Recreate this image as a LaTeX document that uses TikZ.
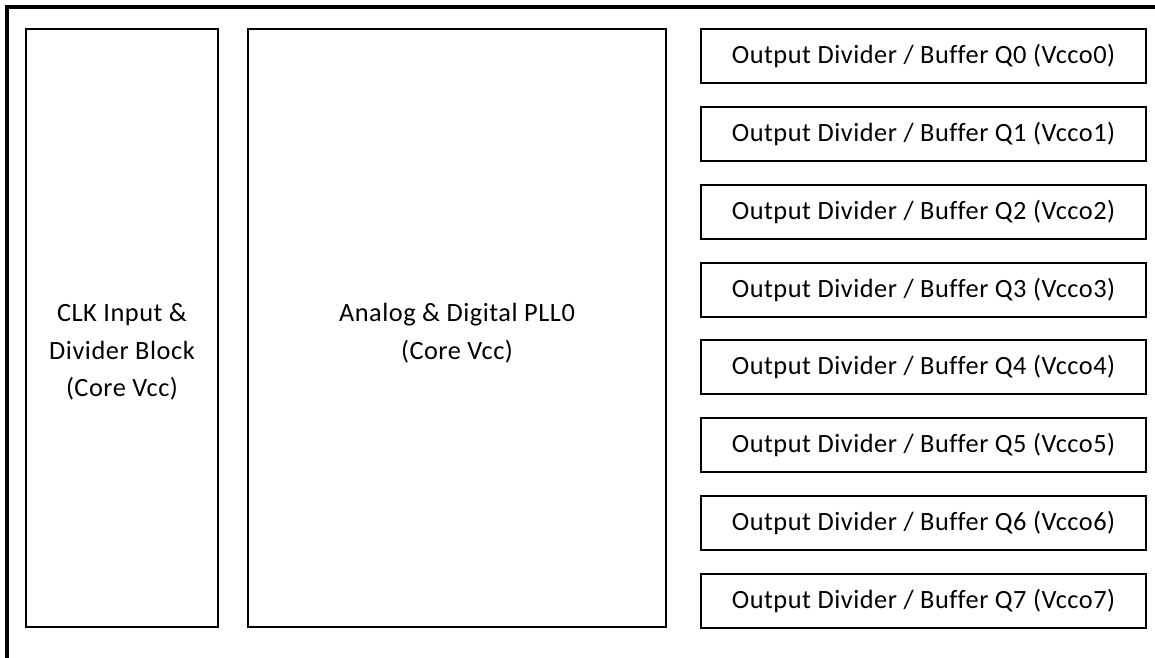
\documentclass[tikz,border=0pt]{standalone}
\usepackage{fontspec}
\setmainfont[LetterSpace=2, Ligatures=NoCommon]{Carlito}

\begin{document}
\begin{tikzpicture}[x=0.02cm, y=-0.02cm,
  blk/.style={draw, line width=1.1pt, inner sep=0pt},
  lbl/.style={align=center, font=\fontsize{15}{21.5}\selectfont}]

% Define dimensions
\def\blockheight{11.96cm}
\def\clkwidth{3.84cm}
\def\pllwidth{8.36cm}
\def\outwidth{8.9cm}
\def\outheight{1.08cm}
\def\outpitch{77.86}

\useasboundingbox (0,0) rectangle (1155,657);
\clip (0,0) rectangle (1155,657);

% Draw outer frame (runs off the right and bottom edges)
\draw[line width=2pt] (7,7) rectangle (1180,680);

% Draw input and PLL blocks
\node[blk, minimum width=\clkwidth, minimum height=\blockheight] (clk) at (122,328) {};
\node[blk, minimum width=\pllwidth, minimum height=\blockheight] (pll) at (457,328) {};
\node[lbl] (clklabel) at (122,352) {CLK Input \&\\Divider Block\\(Core Vcc)};
\node[lbl] (plllabel) at (457,333) {Analog \& Digital PLL0\\(Core Vcc)};

% Draw output divider / buffer blocks
\foreach \i in {0,...,7}{
  \node[blk, lbl, minimum width=\outwidth, minimum height=\outheight] (out\i) at (923.5, 56+\outpitch*\i) {Output Divider / Buffer Q\i{} (Vcco\i)};
}
\end{tikzpicture}
\end{document}
